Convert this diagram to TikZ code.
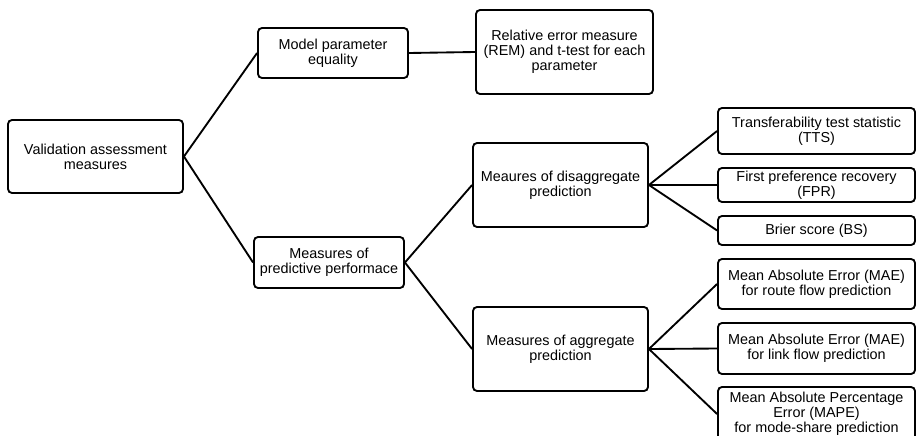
\documentclass[tikz,border=0pt]{standalone}
\usepackage{fontspec}
\setmainfont{Liberation Sans}

\tikzset{
	box/.style={draw,rounded corners=3pt,line width=1.4pt,align=center,inner sep=0pt,
		font=\fontsize{10.8}{11.25}\selectfont},
	sz/.style 2 args={minimum width=#1*0.75pt,minimum height=#2*0.75pt},
	link/.style={line width=1.4pt}
}

\begin{document}
\begin{tikzpicture}[x=0.75pt,y=-0.75pt]

	\clip (0,0) rectangle (916,435);

	\node[box,sz={175}{73}] (root) at (95.5,156.5) {Validation assessment\\measures};

	\node[box,sz={150}{50}] (mpe) at (333,53) {Model parameter\\equality};
	\node[box,sz={177}{84}] (rem) at (564.5,52) {Relative error measure\\(REM) and t-test for each\\parameter};

	\node[box,sz={150}{51}] (ppf) at (329,262.5) {Measures of\\predictive performace};
	\node[box,sz={175}{84}] (dis) at (560.5,185) {Meaures of disaggregate\\prediction};
	\node[box,sz={175}{84}] (agg) at (560.5,349) {Measures of aggregate\\prediction};

	\node[box,sz={197}{46}] (tts) at (816.5,131) {Transferability test statistic\\(TTS)};
	\node[box,sz={197}{34}] (fpr) at (816.5,185) {First preference recovery\\(FPR)};
	\node[box,sz={197}{29}] (bs) at (816.5,230.5) {Brier score (BS)};

	\node[box,sz={197}{50}] (maer) at (816.5,284) {Mean Absolute Error (MAE)\\for route flow prediction};
	\node[box,sz={197}{51}] (mael) at (816.5,348.5) {Mean Absolute Error (MAE)\\for link flow prediction};
	\node[box,sz={197}{54}] (mape) at (816.5,414) {Mean Absolute Percentage\\Error (MAPE)\\for mode-share prediction};

	\draw[link] (root.east) -- (mpe.west);
	\draw[link] (root.east) -- (ppf.west);
	\draw[link] (mpe.east) -- (rem.west);

	\draw[link] (ppf.east) -- (dis.west);
	\draw[link] (ppf.east) -- (agg.west);

	\draw[link] (dis.east) -- (tts.west);
	\draw[link] (dis.east) -- (fpr.west);
	\draw[link] (dis.east) -- (bs.west);

	\draw[link] (agg.east) -- (maer.west);
	\draw[link] (agg.east) -- (mael.west);
	\draw[link] (agg.east) -- (mape.west);

\end{tikzpicture}
\end{document}
